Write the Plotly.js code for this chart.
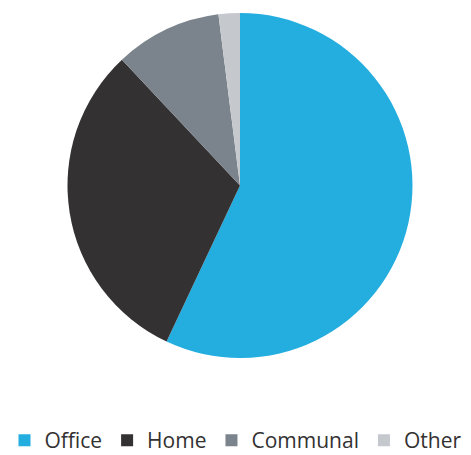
<!DOCTYPE html>
<html>
<head>
<meta charset="utf-8">
<script src="https://cdn.plot.ly/plotly-3.0.1.min.js"></script>
<style>html,body{margin:0;padding:0;background:#fff;}#chart{width:471px;height:455px;}</style>
</head>
<body>
<div id="chart"></div>
<script>
var categories = ["Office", "Home", "Communal", "Other"];
var shares = [57, 31, 10, 2];
var colors = ["#23AEDF", "#333132", "#7B838C", "#C5C9CD"];

var trace = {
  type: "pie",
  labels: categories,
  values: shares,
  sort: false,
  direction: "clockwise",
  rotation: 0,
  textinfo: "none",
  hoverinfo: "label+percent",
  marker: {colors: colors, line: {width: 0}},
  domain: {x: [9/471, 1], y: [0, 1]}
};

var layout = {
  width: 471,
  height: 455,
  margin: {l: 0, r: 0, t: 13, b: 97, autoexpand: false},
  paper_bgcolor: "#fff",
  plot_bgcolor: "#fff",
  showlegend: true,
  legend: {
    orientation: "h",
    x: 0.5, xanchor: "center",
    y: -103/345, yanchor: "bottom",
    font: {family: "Open Sans, sans-serif", size: 21, color: "#333132"},
    traceorder: "normal"
  }
};

Plotly.newPlot("chart", [trace], layout, {displayModeBar: false, staticPlot: true});
</script>
</body>
</html>
